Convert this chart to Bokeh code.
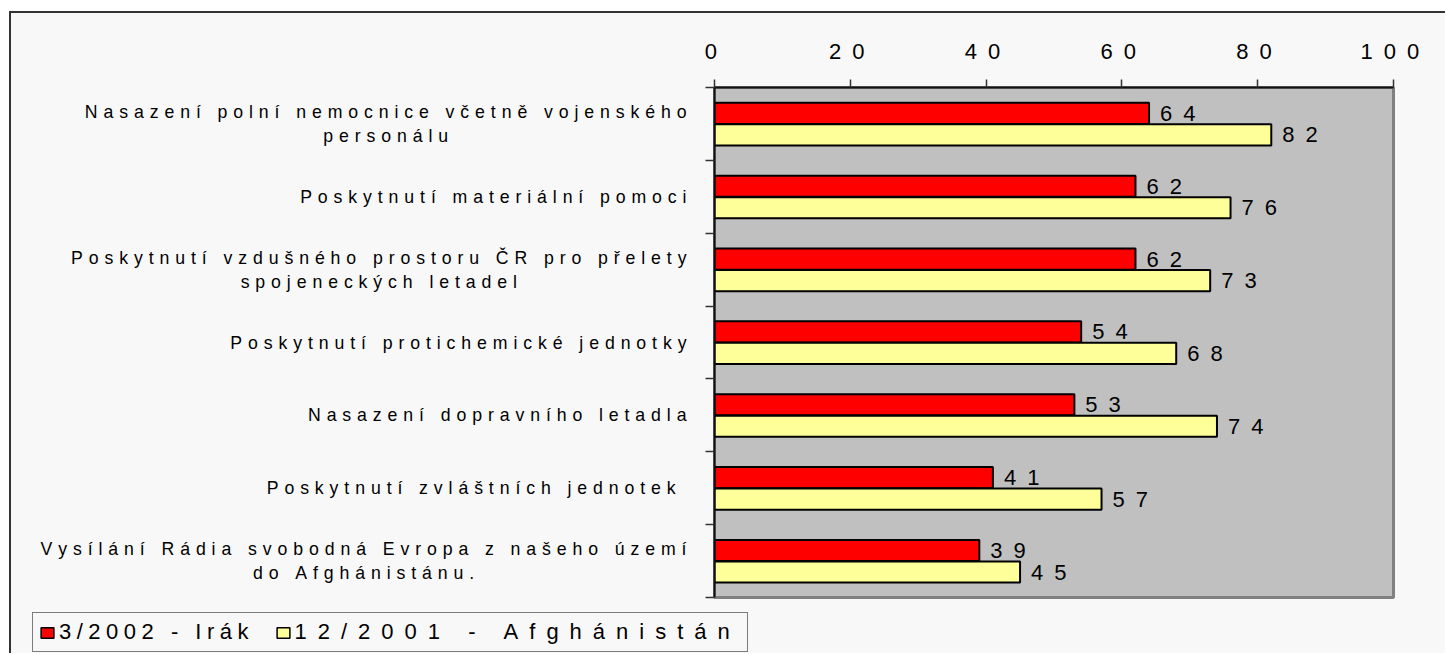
from bokeh.plotting import figure
from bokeh.layouts import column, row
from bokeh.models import Range1d, FixedTicker
from bokeh.core.properties import value
from bokeh.embed import file_html
from bokeh.resources import INLINE

# ---- data ----
categories = [
    "Nasazení polní nemocnice včetně vojenského\npersonálu",
    "Poskytnutí materiální pomoci",
    "Poskytnutí vzdušného prostoru ČR pro přelety\nspojeneckých letadel",
    "Poskytnutí protichemické jednotky",
    "Nasazení dopravního letadla",
    "Poskytnutí zvláštních jednotek ",
    "Vysílání Rádia svobodná Evropa z našeho území\ndo Afghánistánu.",
]
irak_2002 = [64, 62, 62, 54, 53, 41, 39]
afg_2001 = [82, 76, 73, 68, 74, 57, 45]
series_names = ["3/2002 - Irák", "12/2001 - Afghánistán"]
series_colors = ["#ff0000", "#ffff99"]
x_ticks = [0, 20, 40, 60, 80, 100]

FONT = "Liberation Sans"
BG = "#f8f8f8"


def spaced(s, gap, trail=""):
    """Imitate the expanded character spacing of the original chart."""
    return "\n".join(gap.join(line) + trail for line in s.split("\n"))


n = len(categories)
idx = list(range(n))
y_red = [i + 0.355 for i in idx]
y_yel = [i + 0.65 for i in idx]
y_mid = [i + 0.5 for i in idx]
y_range = Range1d(n, 0)

common = dict(output_backend="svg", toolbar_location=None,
              border_fill_color=BG, min_border_top=74, min_border_bottom=6)

# ---------- left: category labels ----------
fl = figure(width=683, height=590, x_range=Range1d(0, 1), y_range=y_range,
            x_axis_location=None, y_axis_location=None,
            background_fill_color=BG, outline_line_color=None,
            min_border_left=0, min_border_right=0, **common)
fl.xgrid.visible = False
fl.ygrid.visible = False
fl.text(x=[1] * n, y=y_mid, text=[spaced(c, "\u2004") for c in categories],
        x_offset=-8, anchor="center_right", text_align="center",
        text_baseline="middle", text_line_height=1.2,
        text_font=value(FONT), text_font_size="17.7px", text_color="black")

# ---------- main chart ----------
p = figure(width=751, height=590, x_range=Range1d(0, 100), y_range=y_range,
           x_axis_location="above",
           min_border_left=20, min_border_right=52,
           background_fill_color="#c0c0c0",
           outline_line_color="#808080", outline_line_width=3, **common)
p.xgrid.visible = False
p.ygrid.visible = False

p.hbar(y=y_red, right=irak_2002, left=0, height=0.29,
       fill_color=series_colors[0], line_color="black", line_width=2)
p.hbar(y=y_yel, right=afg_2001, left=0, height=0.29,
       fill_color=series_colors[1], line_color="black", line_width=2)

p.text(x=irak_2002, y=y_red, text=[spaced(str(v), "\u2002") for v in irak_2002],
       x_offset=11, text_align="left", text_baseline="middle",
       text_font=value(FONT), text_font_size="22px", text_color="black")
p.text(x=afg_2001, y=y_yel, text=[spaced(str(v), "\u2002") for v in afg_2001],
       x_offset=11, text_align="left", text_baseline="middle",
       text_font=value(FONT), text_font_size="22px", text_color="black")

xa = p.xaxis[0]
xa.ticker = FixedTicker(ticks=x_ticks)
xa.major_label_overrides = {t: spaced(str(t), "\u2002", "\u2004") for t in x_ticks}
xa.major_label_text_font = FONT
xa.major_label_text_font_size = "22px"
xa.major_label_text_color = "black"
xa.major_label_standoff = 16
xa.major_tick_out = 8
xa.major_tick_in = 0
xa.minor_tick_line_color = None
xa.axis_line_color = "#111111"
xa.axis_line_width = 2
xa.major_tick_line_color = "#333333"
xa.major_tick_line_width = 1.5

ya = p.yaxis[0]
ya.ticker = FixedTicker(ticks=[], minor_ticks=list(range(n + 1)))
ya.major_label_standoff = 0
ya.minor_tick_out = 9
ya.minor_tick_in = 0
ya.minor_tick_line_color = "#333333"
ya.minor_tick_line_width = 1.5
ya.major_tick_line_color = None
ya.axis_line_color = "#111111"
ya.axis_line_width = 2

# ---------- legend strip (series renderers hidden, only legend drawn) ----------
fg = figure(width=1434, height=50, x_range=Range1d(0, 100), y_range=y_range,
            x_axis_location=None, y_axis_location=None,
            background_fill_color=BG, outline_line_color=None,
            output_backend="svg", toolbar_location=None, border_fill_color=BG,
            min_border_left=0, min_border_right=0, min_border_top=0, min_border_bottom=0)
fg.xgrid.visible = False
fg.ygrid.visible = False
legend_gaps = ["\u2005", "\u2002"]
legend_trail = ["", "\u2002"]
for name, col, ys, vals, gap, tr in zip(series_names, series_colors, [y_red, y_yel],
                                        [irak_2002, afg_2001], legend_gaps, legend_trail):
    r = fg.hbar(y=ys, right=vals, left=0, height=0.29, fill_color=col,
                line_color="black", line_width=1.5, legend_label=spaced(name, gap, tr))
    r.visible = False
lg = fg.legend[0]
lg.location = (21, 1)
lg.orientation = "horizontal"
lg.border_line_color = "black"
lg.border_line_width = 1
lg.background_fill_color = BG
lg.background_fill_alpha = 1
lg.label_text_font = FONT
lg.label_text_font_size = "22px"
lg.label_text_color = "black"
lg.glyph_width = 16
lg.glyph_height = 13
lg.label_standoff = 4
lg.spacing = 26
lg.padding = 6
lg.margin = 0

layout = column(row(fl, p), fg,
                styles={"border-top": "2px solid #333333",
                        "border-left": "2px solid #333333",
                        "margin-top": "11px", "margin-left": "9px",
                        "background-color": BG})

open("out.html", "w").write(file_html(layout, INLINE))
